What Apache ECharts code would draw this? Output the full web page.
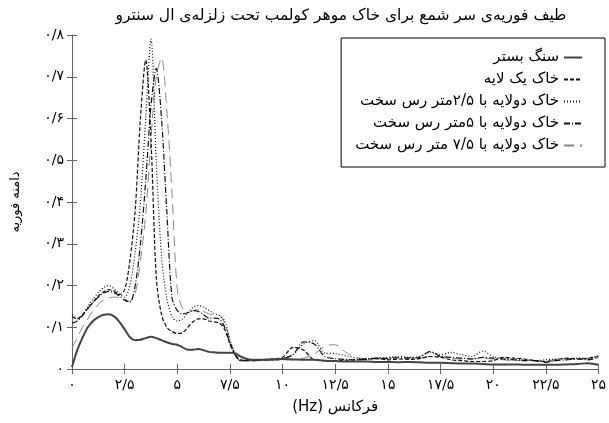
<!DOCTYPE html>
<html>
<head>
<meta charset="utf-8">
<script src="https://cdn.jsdelivr.net/npm/echarts@6/dist/echarts.min.js"></script>
<style>
  html, body { margin: 0; padding: 0; background: #fff; }
  #chart { width: 609px; height: 423px; }
</style>
</head>
<body>
<div id="chart"></div>
<script>
// فرکانس (Hz)
var freq = [0, 0.25, 0.5, 0.75, 1, 1.25, 1.5, 1.75, 2, 2.25, 2.5, 2.75, 3, 3.25, 3.5, 3.75, 4, 4.25, 4.5, 4.75,
  5, 5.25, 5.5, 5.75, 6, 6.25, 6.5, 6.75, 7, 7.25, 7.5, 7.75, 8,
  8.5, 9, 9.5, 10, 10.5, 11, 11.5, 12, 12.5, 13, 13.5, 14, 14.5, 15, 15.5, 16, 16.5, 17, 17.5,
  18, 18.5, 19, 19.5, 20, 20.5, 21, 21.5, 22, 22.5, 23, 23.5, 24, 24.5, 25];

// سنگ بستر
var bedrock = [0.005, 0.045, 0.075, 0.1, 0.115, 0.124, 0.13, 0.131, 0.126, 0.113, 0.095, 0.076, 0.069, 0.07, 0.074, 0.077, 0.074, 0.069, 0.064, 0.06,
  0.058, 0.052, 0.046, 0.046, 0.048, 0.045, 0.041, 0.04, 0.039, 0.039, 0.039, 0.038, 0.03,
  0.022, 0.022, 0.023, 0.024, 0.023, 0.022, 0.022, 0.02, 0.019, 0.018, 0.018, 0.018, 0.017, 0.017, 0.016, 0.017, 0.016, 0.015, 0.015,
  0.014, 0.013, 0.013, 0.012, 0.011, 0.011, 0.011, 0.01, 0.01, 0.01, 0.01, 0.011, 0.012, 0.014, 0.01];

// خاک یک لایه
var oneLayer = [0.125, 0.12, 0.13, 0.145, 0.16, 0.175, 0.185, 0.19, 0.187, 0.178, 0.19, 0.26, 0.38, 0.6, 0.74, 0.55, 0.22, 0.13, 0.1, 0.09,
  0.085, 0.087, 0.1, 0.113, 0.12, 0.12, 0.115, 0.113, 0.11, 0.095, 0.06, 0.035, 0.022,
  0.02, 0.022, 0.024, 0.028, 0.052, 0.045, 0.022, 0.02, 0.02, 0.021, 0.022, 0.023, 0.025, 0.022, 0.024, 0.023, 0.025, 0.03, 0.028,
  0.022, 0.02, 0.018, 0.018, 0.02, 0.028, 0.026, 0.024, 0.02, 0.018, 0.022, 0.026, 0.024, 0.026, 0.03];

// خاک دولایه با ۲/۵ متر رس سخت
var clay25 = [0.13, 0.122, 0.13, 0.15, 0.168, 0.183, 0.195, 0.2, 0.192, 0.18, 0.172, 0.2, 0.28, 0.4, 0.6, 0.79, 0.5, 0.27, 0.17, 0.125,
  0.115, 0.12, 0.135, 0.148, 0.152, 0.148, 0.14, 0.133, 0.128, 0.115, 0.07, 0.035, 0.02,
  0.022, 0.022, 0.024, 0.026, 0.035, 0.06, 0.068, 0.038, 0.037, 0.032, 0.026, 0.025, 0.027, 0.028, 0.03, 0.028, 0.03, 0.04, 0.034,
  0.04, 0.034, 0.03, 0.043, 0.03, 0.025, 0.024, 0.022, 0.02, 0.022, 0.024, 0.025, 0.026, 0.025, 0.032];

// خاک دولایه با ۵ متر رس سخت
var clay5 = [0.11, 0.115, 0.128, 0.145, 0.16, 0.172, 0.182, 0.186, 0.183, 0.175, 0.165, 0.16, 0.2, 0.3, 0.45, 0.63, 0.72, 0.6, 0.38, 0.17,
  0.14, 0.132, 0.135, 0.14, 0.138, 0.13, 0.122, 0.122, 0.12, 0.1, 0.062, 0.033, 0.02,
  0.02, 0.021, 0.022, 0.024, 0.035, 0.065, 0.06, 0.03, 0.025, 0.023, 0.022, 0.024, 0.026, 0.025, 0.027, 0.026, 0.028, 0.042, 0.03,
  0.028, 0.026, 0.024, 0.028, 0.026, 0.024, 0.022, 0.02, 0.02, 0.016, 0.02, 0.022, 0.024, 0.022, 0.028];

// خاک دولایه با ۷/۵ متر رس سخت
var clay75 = [0.05, 0.075, 0.1, 0.12, 0.14, 0.155, 0.165, 0.17, 0.172, 0.172, 0.168, 0.162, 0.18, 0.26, 0.37, 0.55, 0.7, 0.745, 0.62, 0.42,
  0.19, 0.145, 0.135, 0.14, 0.142, 0.138, 0.132, 0.13, 0.128, 0.11, 0.07, 0.035, 0.02,
  0.02, 0.02, 0.021, 0.022, 0.022, 0.026, 0.035, 0.055, 0.058, 0.04, 0.027, 0.025, 0.024, 0.026, 0.028, 0.027, 0.026, 0.03, 0.03,
  0.026, 0.024, 0.024, 0.026, 0.024, 0.022, 0.02, 0.02, 0.019, 0.02, 0.022, 0.024, 0.025, 0.024, 0.026];

var seriesNames = ['سنگ بستر', 'خاک یک لایه', 'خاک دولایه با ۲/۵متر رس سخت', 'خاک دولایه با ۵متر رس سخت', 'خاک دولایه با ۷/۵ متر رس سخت'];
var xTickLabels = ['۰', '۲/۵', '۵', '۷/۵', '۱۰', '۱۲/۵', '۱۵', '۱۷/۵', '۲۰', '۲۲/۵', '۲۵'];
var yTickLabels = ['۰', '۰/۱', '۰/۲', '۰/۳', '۰/۴', '۰/۵', '۰/۶', '۰/۷', '۰/۸'];

var font = 'DejaVu Sans';

function pairs(ys) {
  return freq.map(function (f, i) { return [f, ys[i]]; });
}

var chart = echarts.init(document.getElementById('chart'));

var styles = [
  { color: '#444', width: 2, type: 'solid' },
  { color: '#111', width: 1.2, type: [4, 2] },
  { color: '#111', width: 1.2, type: [1, 2] },
  { color: '#111', width: 1.2, type: [6, 2, 1, 2] },
  { color: '#888', width: 1, type: [10, 6] }
];
var values = [bedrock, oneLayer, clay25, clay5, clay75];

var axisLine = { show: true, lineStyle: { color: '#666', width: 1 } };
var tick = { show: true, inside: true, length: 5, lineStyle: { color: '#666' } };

var option = {
  animation: false,
  backgroundColor: '#fff',
  title: {
    text: 'طیف فوریه‌ی سر شمع برای خاک موهر کولمب تحت زلزله‌ی ال سنترو',
    left: 336,
    textAlign: 'center',
    top: 3,
    textStyle: { fontFamily: font, fontSize: 15.5, fontWeight: 'normal', color: '#000' }
  },
  legend: {
    orient: 'vertical',
    align: 'right',
    right: 4,
    top: 38,
    backgroundColor: '#fff',
    borderColor: '#000',
    borderWidth: 1,
    padding: [12, 22, 14, 14],
    itemGap: 7,
    itemWidth: 18,
    itemHeight: 14,
    itemStyle: { opacity: 0 },
    textStyle: { fontFamily: font, fontSize: 15, color: '#000' },
    data: seriesNames
  },
  grid: { left: 72, right: 4, top: 35, bottom: 54 },
  xAxis: [{
    type: 'value', min: 0, max: 25, interval: 2.5,
    name: '(Hz) فرکانس', nameLocation: 'middle', nameGap: 31,
    nameTextStyle: { fontFamily: font, fontSize: 15, color: '#000' },
    axisLine: axisLine, axisTick: tick, splitLine: { show: false },
    axisLabel: {
      fontFamily: font, fontSize: 14, color: '#000', margin: 9,
      formatter: function (v) { return xTickLabels[Math.round(v / 2.5)]; }
    }
  }, {
    type: 'value', min: 0, max: 25, interval: 2.5, position: 'top',
    axisLine: axisLine, axisTick: tick, splitLine: { show: false }, axisLabel: { show: false }
  }],
  yAxis: [{
    type: 'value', min: 0, max: 0.8, interval: 0.1,
    name: 'دامنه فوریه', nameLocation: 'middle', nameGap: 50, nameRotate: 90,
    nameTextStyle: { fontFamily: font, fontSize: 13, color: '#000' },
    axisLine: axisLine, axisTick: tick, splitLine: { show: false },
    axisLabel: {
      fontFamily: font, fontSize: 14, color: '#000', margin: 8,
      formatter: function (v) { return yTickLabels[Math.round(v * 10)]; }
    }
  }, {
    type: 'value', min: 0, max: 0.8, interval: 0.1, position: 'right',
    axisLine: axisLine, axisTick: tick, splitLine: { show: false }, axisLabel: { show: false }
  }],
  series: values.map(function (ys, i) {
    return {
      name: seriesNames[i],
      type: 'line',
      data: pairs(ys),
      smooth: 0.3,
      showSymbol: false,
      symbol: 'none',
      lineStyle: styles[i],
      itemStyle: { color: styles[i].color },
      z: 5 - i
    };
  })
};

chart.setOption(option);
</script>
</body>
</html>
